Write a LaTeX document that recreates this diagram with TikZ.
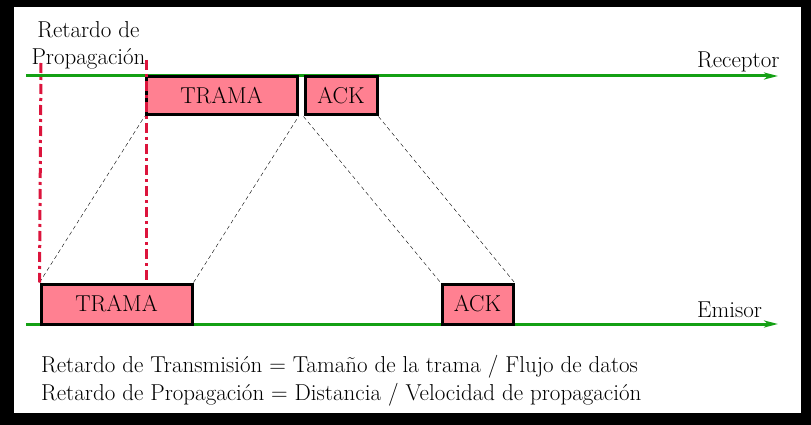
\documentclass[tikz,border=0pt]{standalone}
\usetikzlibrary{arrows.meta}

\definecolor{linegreen}{RGB}{20,160,20}
\definecolor{framepink}{RGB}{255,128,145}
\definecolor{delayred}{RGB}{220,20,60}

\begin{document}
\begin{tikzpicture}
          [
            x=1pt, y=-1pt,
            every node/.style={font=\fontsize{23}{27}\selectfont},
            frame/.style={draw=black, line width=3pt, fill=framepink, inner sep=0pt},
            timeline/.style={linegreen, line width=3pt, -{Stealth[length=14pt,width=7pt,inset=4pt]}},
            delay/.style={delayred, line width=3pt, dash pattern=on 10pt off 4pt on 3pt off 4pt},
            link/.style={black, thin, dash pattern=on 4pt off 3pt}
          ]
          % frame
          \fill[black] (0,0) rectangle (811,425);
          \fill[white] (14,7) rectangle (801,413);
          \useasboundingbox (0,0) rectangle (811,425);
          % time lines
          \coordinate (rx0) at (26,76);
          \coordinate (rx1) at (778,76);
          \coordinate (ex0) at (26,324);
          \coordinate (ex1) at (778,324);
          \draw [timeline] (rx0) -- (rx1);
          \draw [timeline] (ex0) -- (ex1);
          % frames
          \node [frame, minimum width=151pt, minimum height=38pt] (tt) at (221.5,96) {TRAMA};
          \node [frame, minimum width=72pt, minimum height=38pt] (ta) at (341,96) {ACK};
          \node [frame, minimum width=151pt, minimum height=40pt] (bt) at (116.5,304) {TRAMA};
          \node [frame, minimum width=71pt, minimum height=40pt] (ba) at (477.5,304) {ACK};
          % labels
          \node [align=center] (prop) at (88.5,45) {Retardo de\\Propagación};
          \node [anchor=base west, inner sep=0pt] (rec) at (697,68) {Receptor};
          \node [anchor=base west, inner sep=0pt] (emi) at (697,317) {Emisor};
          \node [anchor=base west, inner sep=0pt] (f1) at (41,372) {Retardo de Transmisión = Tamaño de la trama / Flujo de datos};
          \node [anchor=base west, inner sep=0pt] (f2) at (41,400) {Retardo de Propagación = Distancia / Velocidad de propagación};
          % propagation edges
          \draw [link] (bt.north west) -- (tt.south west);
          \draw [link] (bt.north east) -- (tt.south east);
          \draw [link] (ta.south west) -- (ba.north west);
          \draw [link] (ta.south east) -- (ba.north east);
          % delay marks
          \coordinate (d0) at (41,63);
          \coordinate (d1) at (146,60);
          \coordinate (d1b) at (146,283);
          \draw [delay] (d0) -- (bt.north west);
          \draw [delay] (d1) -- (d1b);
        \end{tikzpicture}
\end{document}
